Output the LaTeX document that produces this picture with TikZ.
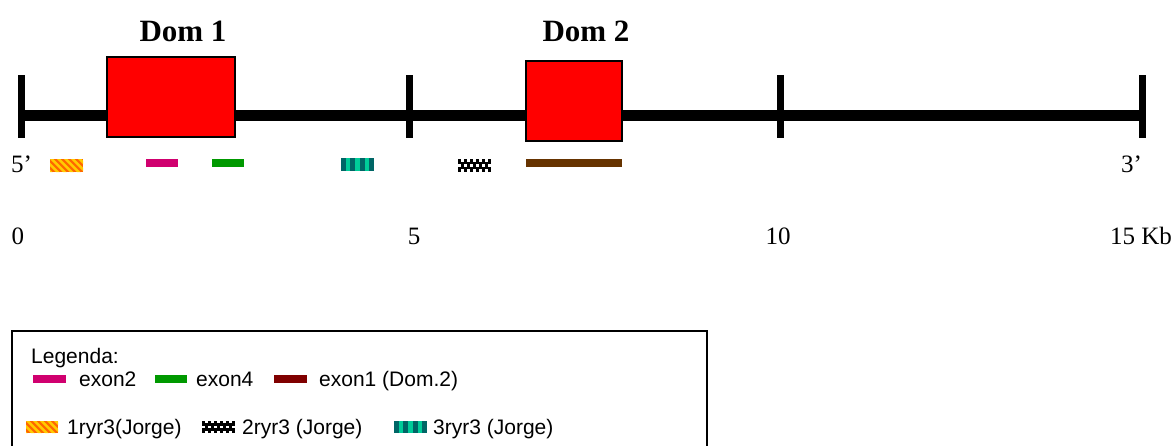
\documentclass[tikz,border=0pt]{standalone}
\usepackage{fontspec}
\setmainfont{Liberation Serif}
\newfontfamily\legfont{Liberation Sans}
\usetikzlibrary{calc}
\definecolor{exmag}{RGB}{208,0,111}
\definecolor{exgreen}{RGB}{0,153,0}
\definecolor{exbrown}{RGB}{102,51,0}
\definecolor{exmaroon}{RGB}{128,0,0}
\definecolor{orA}{RGB}{255,102,0}
\definecolor{yeA}{RGB}{255,204,0}
\definecolor{tealD}{RGB}{0,102,102}
\definecolor{tealL}{RGB}{0,204,153}
\newcommand\patOrange[4]{%
  \begin{scope}
    \clip (#1,#2) rectangle ++(#3,#4);
    \fill[orA] (#1,#2) rectangle ++(#3,#4);
    \foreach \k in {-3,...,8}
      \fill[yeA] ($(#1,#2)+(\k*7,0)$) -- ++(3.5,0) -- ++(#4,#4) -- ++(-3.5,0) -- cycle;
  \end{scope}}
\newcommand\patTeal[4]{%
  \begin{scope}
    \fill[tealL] (#1,#2) rectangle ++(#3,#4);
    \foreach \k in {0,2,4,6}
      \fill[tealD] ($(#1,#2)+(\k*#3/7,0)$) rectangle ++(#3/7,#4);
  \end{scope}}
\newcommand\patBlack[4]{%
  \begin{scope}
    \fill[black] (#1,#2) rectangle ++(#3,#4);
    \foreach \r in {0,4}
      \foreach \c in {1,3,5,7,9}
        \fill[white] ($(#1,#2)+(\c*#3/11,\r*#4/5)$) rectangle ++(#3/11,#4/5);
    \foreach \c in {0,2,4,6,8,10}
      \fill[white] ($(#1,#2)+(\c*#3/11,2*#4/5)$) rectangle ++(#3/11,#4/5);
  \end{scope}}
\tikzset{
  axisline/.style={line width=11pt},
  tick/.style={line width=7pt},
  dombox/.style={draw=black, line width=1.5pt, fill=red},
  domlab/.style={font=\fontsize{31}{33}\selectfont\bfseries, anchor=base, inner sep=0},
  numlab/.style={font=\fontsize{25}{27}\selectfont, anchor=base, inner sep=0},
  leglab/.style={font=\legfont\fontsize{21}{23}\selectfont, anchor=base west, inner sep=0},
}
\begin{document}
\begin{tikzpicture}[x=1pt,y=-1pt]
\useasboundingbox (0,0) rectangle (1176,445);
% axis
\coordinate (L) at (18,115.5);
\coordinate (R) at (1142,115.5);
\draw[axisline] (L) -- (R);
\foreach \x/\n in {21.5/t0,409.5/t5,780/t10,1142/t15}
  \draw[tick] (\x,75) -- (\x,138);
% domains
\draw[dombox] (107,57) rectangle (235,137);
\draw[dombox] (526,61) rectangle (622,141);
\node[domlab] (d1) at (183,41) {Dom 1};
\node[domlab] (d2) at (586,41) {Dom 2};
% ends
\node[numlab, anchor=base west] (p5) at (11,172) {5’};
\node[numlab, anchor=base west] (p3) at (1121,172) {3’};
% scale numbers
\node[numlab] (n0) at (18,244) {0};
\node[numlab] (n5) at (414,244) {5};
\node[numlab] (n10) at (778,244) {10};
\node[numlab] (n15) at (1141,244) {15 Kb};
% markers
\patOrange{50}{159}{33}{13}
\fill[exmag] (146,159) rectangle (178,167);
\fill[exgreen] (212,159) rectangle (244,167);
\patTeal{341}{158}{33}{13}
\patBlack{458}{159}{33}{13}
\fill[exbrown] (526,159) rectangle (622,167);
% legend
\draw[line width=2pt] (12,460) -- (12,331) -- (707,331) -- (707,460);
\node[leglab] (lg) at (31,363) {Legenda:};
\fill[exmag] (33,375) rectangle (66,383);
\node[leglab] (le2) at (79,386) {exon2};
\fill[exgreen] (155,375) rectangle (187,383);
\node[leglab] (le4) at (196,386) {exon4};
\fill[exmaroon] (274,375) rectangle (307,383);
\node[leglab] (le1) at (319,386) {exon1 (Dom.2)};
\patOrange{26}{421}{32}{12}
\node[leglab] (r1) at (67,434) {1ryr3(Jorge)};
\patBlack{202}{421}{33}{12}
\node[leglab] (r2) at (242,434) {2ryr3 (Jorge)};
\patTeal{394}{421}{33}{12}
\node[leglab] (r3) at (433,434) {3ryr3 (Jorge)};
\end{tikzpicture}
\end{document}
